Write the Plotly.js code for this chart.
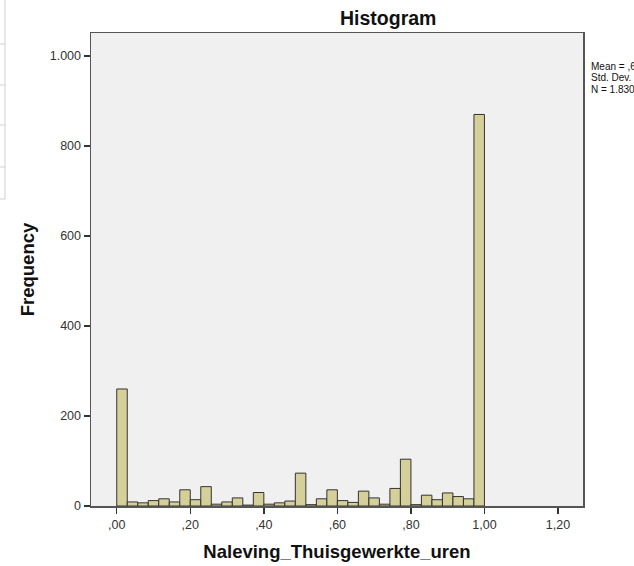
<!DOCTYPE html>
<html>
<head>
<meta charset="utf-8">
<script src="https://cdn.plot.ly/plotly-3.0.1.min.js"></script>
<style>html,body{margin:0;padding:0;background:#fff;overflow:hidden;}#chart{width:634px;height:566px;}</style>
</head>
<body>
<div id="chart"></div>
<script>
// Histogram data: 35 bins from 0 to 1
const binStart = 0;
const binEnd = 1;
const counts = [260, 9, 7, 12, 16, 9, 36, 14, 43, 4, 9, 18, 2, 30, 4, 7, 11, 73, 3, 16, 36, 12, 8, 33, 18, 4, 39, 104, 3, 24, 14, 29, 21, 16, 870];
const xTickVals = [0, 0.2, 0.4, 0.6, 0.8, 1.0, 1.2];
const xTickText = [",00", ",20", ",40", ",60", ",80", "1,00", "1,20"];
const yTickVals = [0, 200, 400, 600, 800, 1000];
const yTickText = ["0", "200", "400", "600", "800", "1.000"];
const statsLines = ["Mean = ,66", "Std. Dev. = ,386", "N = 1.830"];

const binWidth = (binEnd - binStart) / counts.length;
const centers = counts.map((_, i) => binStart + (i + 0.5) * binWidth);

const W = 634, H = 566, L = 91, R = 51, T = 33, B = 60;
const pw = W - L - R, ph = H - T - B;
const px2x = p => (p - L) / pw;
const py2y = p => (H - B - p) / ph;

const shapes = [];
shapes.push({type:'line', xref:'paper', yref:'paper', x0:px2x(5), x1:px2x(5), y0:py2y(0), y1:py2y(199), line:{color:'#d0d0d0', width:1}});
[44, 85, 125, 167, 199].forEach(py => shapes.push({type:'line', xref:'paper', yref:'paper', x0:px2x(0), x1:px2x(5), y0:py2y(py), y1:py2y(py), line:{color:'#d0d0d0', width:1}}));

const annotations = statsLines.map((t, i) => ({
  text: t, xref:'paper', yref:'paper', x: px2x(589), y: py2y(66 + i * 11.5),
  xanchor:'left', yanchor:'middle', showarrow:false,
  font:{family:'Liberation Sans, Arial, sans-serif', size:10, color:'#111'}
}));
annotations.push({
  text:'<b>Histogram</b>', xref:'paper', yref:'paper', x: px2x(388), y: py2y(18),
  xanchor:'center', yanchor:'middle', showarrow:false,
  font:{family:'Liberation Sans, Arial, sans-serif', size:19.5, color:'#111'}
});

const trace = {
  type:'bar', x: centers, y: counts, width: binWidth,
  marker:{color:'#d5d09a', line:{color:'#333', width:1}},
  hoverinfo:'x+y'
};

const layout = {
  width: W, height: H,
  margin:{l:L, r:R, t:T, b:B, pad:0},
  paper_bgcolor:'#ffffff', plot_bgcolor:'#f0f0f0',
  showlegend:false, bargap:0,
  font:{family:'Liberation Sans, Arial, sans-serif', size:12, color:'#222'},
  xaxis:{
    range:[-0.07, 1.268], tickvals:xTickVals, ticktext:xTickText,
    ticks:'outside', ticklen:6, tickwidth:1.5, tickcolor:'#333',
    showline:true, mirror:true, linecolor:'#555', linewidth:1.5,
    showgrid:false, zeroline:false,
    tickfont:{size:12.5, color:'#333'},
    title:{text:'<b>Naleving_Thuisgewerkte_uren</b>', font:{size:18.5, color:'#111'}, standoff:14}
  },
  yaxis:{
    range:[0, 1051], tickvals:yTickVals, ticktext:yTickText,
    ticks:'outside', ticklen:6, tickwidth:1.5, tickcolor:'#333',
    showline:true, mirror:true, linecolor:'#555', linewidth:1.5,
    showgrid:false, zeroline:false,
    tickfont:{size:12.5, color:'#333'},
    title:{text:'<b>Frequency</b>', font:{size:18.5, color:'#111'}, standoff:10}
  },
  shapes: shapes,
  annotations: annotations
};

Plotly.newPlot('chart', [trace], layout, {displayModeBar:false, staticPlot:true});
</script>
</body>
</html>
